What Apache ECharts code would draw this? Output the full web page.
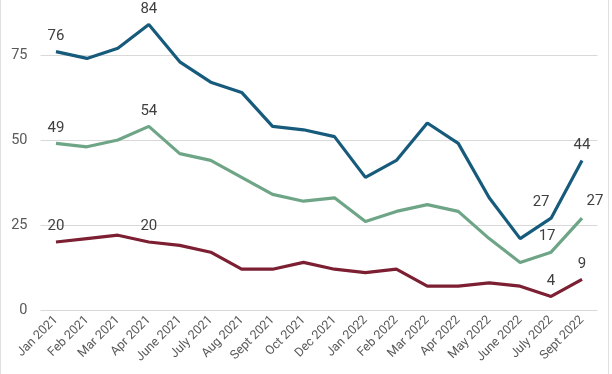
<!DOCTYPE html>
<html><head><meta charset="utf-8">
<script src="https://cdn.jsdelivr.net/npm/echarts@6/dist/echarts.min.js"></script>
<style>html,body{margin:0;padding:0;background:#fff}#c{width:612px;height:374px}</style>
</head><body><div id="c"></div>
<script>
const categories = ['Jan 2021','Feb 2021','Mar 2021','Apr 2021','June 2021','July 2021','Aug 2021','Sept 2021','Oct 2021','Dec 2021','Jan 2022','Feb 2022','Mar 2022','Apr 2022','May 2022','June 2022','July 2022','Sept 2022'];
const blueValues = [76,74,77,84,73,67,64,54,53,51,39,44,55,49,33,21,27,44];
const greenValues = [49,48,50,54,46,44,39,34,32,33,26,29,31,29,21,14,17,27];
const redValues = [20,21,22,20,19,17,12,12,14,12,11,12,7,7,8,7,4,9];
const yTicks = [0,25,50,75];
// indices of points that carry a value label
const blueLabelIdx = [0,3,16,17];
const greenLabelIdx = [0,3,16,17];
const redLabelIdx = [0,3,16,17];

const labelStyle = {show:true, position:'top', distance:8, fontSize:15, color:'#404040', fontFamily:'Roboto, Liberation Sans, sans-serif'};
function mk(vals, idx, offsets){
  return vals.map((v,i)=>{
    if(!idx.includes(i)) return v;
    const o = offsets[i] || [0,0];
    return {value:v, label:Object.assign({}, labelStyle, {offset:o})};
  });
}
const chart = echarts.init(document.getElementById('c'), null, {renderer:'canvas'});
chart.setOption({
  animation:false,
  backgroundColor:'#fff',
  grid:{left:40.5, right:14.5, top:-30, bottom:64, containLabel:false, outerBoundsMode:'none'},
  xAxis:{type:'category', data:categories, boundaryGap:true,
    axisLine:{show:false}, axisTick:{show:false},
    axisLabel:{rotate:45, fontSize:12.5, color:'#595959', margin:8, interval:0, fontFamily:'Roboto, Liberation Sans, sans-serif'}},
  yAxis:{type:'value', min:0, max:100, interval:25,
    axisLine:{show:false}, axisTick:{show:false},
    splitLine:{lineStyle:{color:'#d9d9d9', width:1}},
    axisLabel:{fontSize:14.5, color:'#595959', margin:13, fontFamily:'Roboto, Liberation Sans, sans-serif',
      formatter:v=>yTicks.includes(v)?String(v):''}},
  graphic:[
    {type:'line', shape:{x1:0.5,y1:0,x2:0.5,y2:374}, style:{stroke:'#e0e0e0', lineWidth:1}},
    {type:'line', shape:{x1:608.5,y1:0,x2:608.5,y2:374}, style:{stroke:'#e0e0e0', lineWidth:1}}
  ],
  series:[
    {type:'line', data:mk(redValues, redLabelIdx, {}), symbol:'circle', symbolSize:0, showSymbol:true, lineStyle:{color:'#7d1f32', width:3.2}, itemStyle:{color:'#7d1f32'}, z:2},
    {type:'line', data:mk(greenValues, greenLabelIdx, {16:[-4,0],17:[13,-1]}), symbol:'circle', symbolSize:0, showSymbol:true, lineStyle:{color:'#6fa587', width:3.2}, itemStyle:{color:'#6fa587'}, z:3},
    {type:'line', data:mk(blueValues, blueLabelIdx, {16:[-10,0]}), symbol:'circle', symbolSize:0, showSymbol:true, lineStyle:{color:'#175b7c', width:3.2}, itemStyle:{color:'#175b7c'}, z:4}
  ]
});
</script></body></html>
